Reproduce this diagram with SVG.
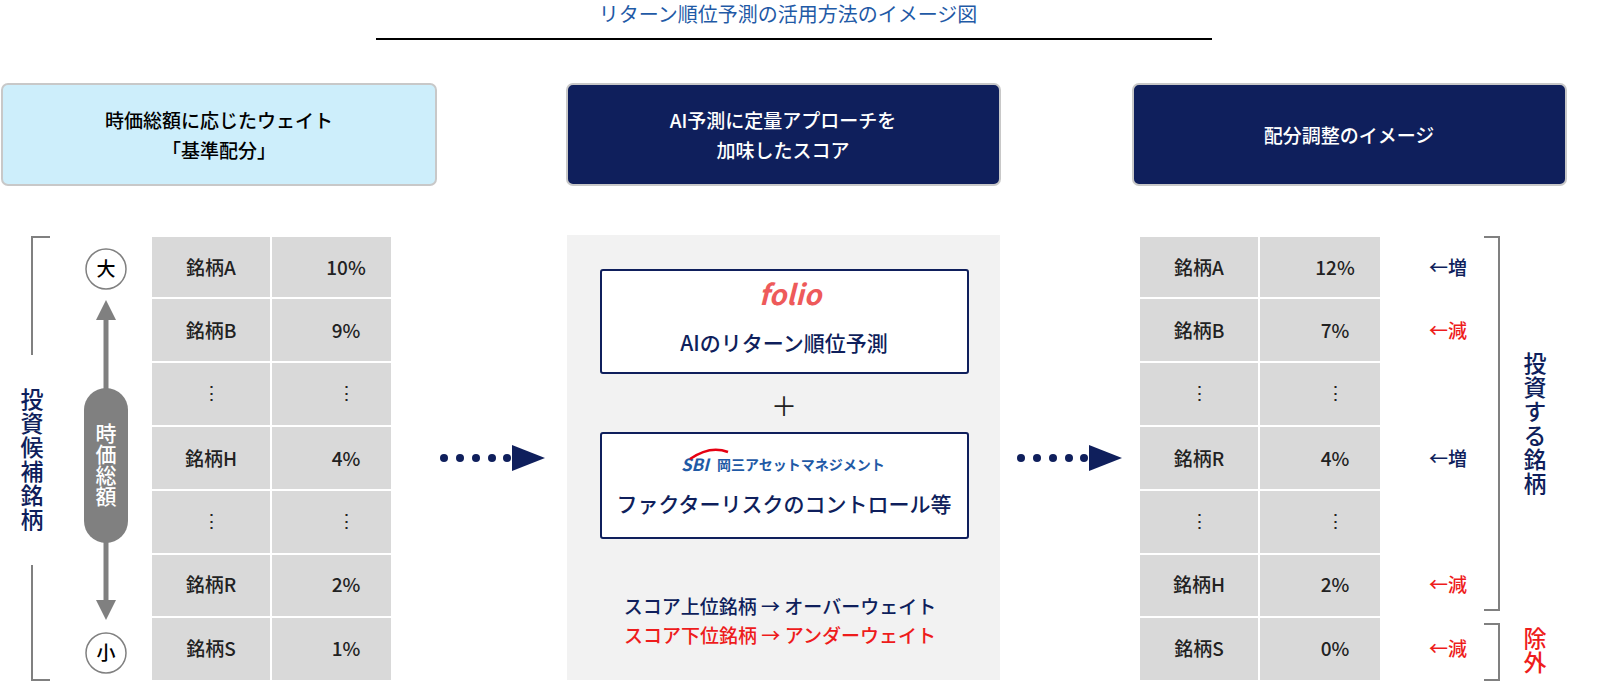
<svg xmlns="http://www.w3.org/2000/svg" width="1600" height="696" viewBox="0 0 1600 696">
<style>
text{font-family:"Noto Sans CJK JP","Noto Sans",sans-serif}
.cell{fill:#d9d9d9}
.ct{font-size:19px;fill:#222;text-anchor:middle;font-weight:500}
.nv{fill:#0f1f5c}
.rd{fill:#ee1c1c}
.hd{font-size:19px;text-anchor:middle;font-weight:500}
.vt{writing-mode:vertical-rl;text-anchor:middle;font-size:23px;font-weight:500;letter-spacing:1px}
</style>
<defs>
<marker id="ga" markerWidth="4" markerHeight="4" refX="2" refY="2" orient="auto"><path d="M0,0L4,2L0,4z" fill="#808080"/></marker>
</defs>
<rect width="1600" height="696" fill="#fff"/>
<text x="788" y="22" font-size="20" fill="#1f5aa6" text-anchor="middle">リターン順位予測の活用方法のイメージ図</text>
<line x1="376" y1="39" x2="1212" y2="39" stroke="#000" stroke-width="2"/>

<g id="h1"><rect x="2" y="84" width="434" height="101" rx="6" fill="#cdeefb" stroke="#c8c8c8" stroke-width="2"/>
<text class="hd" x="219" y="128" fill="#000">時価総額に応じたウェイト</text><text class="hd" x="219" y="158" fill="#000">「基準配分」</text></g>
<g id="h2"><rect x="567" y="84" width="433" height="101" rx="6" fill="#0f1f5c" stroke="#c8c8c8" stroke-width="2"/>
<text class="hd" x="783" y="128" fill="#fff">AI予測に定量アプローチを</text><text class="hd" x="783" y="158" fill="#fff">加味したスコア</text></g>
<g id="h3"><rect x="1133" y="84" width="433" height="101" rx="6" fill="#0f1f5c" stroke="#c8c8c8" stroke-width="2"/>
<text class="hd" x="1349" y="143" fill="#fff">配分調整のイメージ</text></g>

<g id="left">
<path d="M50,237H32V355M32,565V680H50" fill="none" stroke="#808080" stroke-width="2"/>
<text class="vt nv" x="32" y="460">投資候補銘柄</text>
<circle cx="106" cy="269" r="20" fill="#fff" stroke="#808080" stroke-width="1.5"/><text x="106" y="276" font-size="19" text-anchor="middle" font-weight="500">大</text>
<circle cx="106" cy="653" r="20" fill="#fff" stroke="#808080" stroke-width="1.5"/><text x="106" y="660" font-size="19" text-anchor="middle" font-weight="500">小</text>
<line x1="106" y1="400" x2="106" y2="310" stroke="#808080" stroke-width="5" marker-end="url(#ga)"/>
<line x1="106" y1="540" x2="106" y2="610" stroke="#808080" stroke-width="5" marker-end="url(#ga)"/>
<rect x="84" y="388" width="44" height="155" rx="22" fill="#808080"/>
<text class="vt" x="106" y="465" fill="#fff" style="font-size:21px;letter-spacing:0">時価総額</text>
</g>

<g id="ltable">
<g class="cell">
<rect x="152" y="237" width="118" height="60"/><rect x="272" y="237" width="119" height="60"/>
<rect x="152" y="299" width="118" height="62"/><rect x="272" y="299" width="119" height="62"/>
<rect x="152" y="363" width="118" height="62"/><rect x="272" y="363" width="119" height="62"/>
<rect x="152" y="427" width="118" height="62"/><rect x="272" y="427" width="119" height="62"/>
<rect x="152" y="491" width="118" height="62"/><rect x="272" y="491" width="119" height="62"/>
<rect x="152" y="555" width="118" height="61"/><rect x="272" y="555" width="119" height="61"/>
<rect x="152" y="618" width="118" height="62"/><rect x="272" y="618" width="119" height="62"/>
</g>
<g class="ct">
<text x="211" y="275">銘柄A</text><text x="346" y="275">10%</text>
<text x="211" y="338">銘柄B</text><text x="346" y="338">9%</text>
<text x="211" y="400">⋮</text><text x="346" y="400">⋮</text>
<text x="211" y="466">銘柄H</text><text x="346" y="466">4%</text>
<text x="211" y="528">⋮</text><text x="346" y="528">⋮</text>
<text x="211" y="592">銘柄R</text><text x="346" y="592">2%</text>
<text x="211" y="656">銘柄S</text><text x="346" y="656">1%</text>
</g></g>

<g id="connectors" fill="#0f1f5c">
<circle cx="444" cy="458" r="4"/><circle cx="460" cy="458" r="4"/><circle cx="476" cy="458" r="4"/><circle cx="492" cy="458" r="4"/><circle cx="507" cy="458" r="4"/>
<path d="M512,445L545,458L512,471z"/>
<circle cx="1021" cy="458" r="4"/><circle cx="1037" cy="458" r="4"/><circle cx="1053" cy="458" r="4"/><circle cx="1069" cy="458" r="4"/><circle cx="1084" cy="458" r="4"/>
<path d="M1089,445L1122,458L1089,471z"/>
</g>

<g id="mid">
<rect x="567" y="235" width="433" height="445" fill="#f2f2f2"/>
<rect x="601" y="270" width="367" height="103" rx="2" fill="#fff" stroke="#0f1f5c" stroke-width="2"/>
<text x="790" y="305" font-size="28" font-style="italic" font-weight="bold" fill="#ee5a5a" text-anchor="middle" font-family="Liberation Serif,serif">folio</text>
<text x="784" y="351" font-size="21" class="nv" text-anchor="middle" font-weight="500">AIのリターン順位予測</text>
<text x="784" y="416" font-size="26" fill="#222" text-anchor="middle">＋</text>
<rect x="601" y="433" width="367" height="105" rx="2" fill="#fff" stroke="#0f1f5c" stroke-width="2"/>
<text x="681" y="471" font-size="17" font-style="italic" font-weight="bold" fill="#1f5aa6" font-family="Liberation Sans,sans-serif">SBI</text>
<path d="M690,459Q710,445 728,452" fill="none" stroke="#e60012" stroke-width="2.5"/>
<text x="717" y="470" font-size="14" font-weight="bold" fill="#1f5aa6">岡三アセットマネジメント</text>
<text x="784" y="512" font-size="21" class="nv" text-anchor="middle" font-weight="500">ファクターリスクのコントロール等</text>
<text x="780" y="614" font-size="19" class="nv" text-anchor="middle" font-weight="500">スコア上位銘柄 → オーバーウェイト</text>
<text x="780" y="643" font-size="19" class="rd" text-anchor="middle" font-weight="500">スコア下位銘柄 → アンダーウェイト</text>
</g>

<g id="rtable">
<g class="cell">
<rect x="1140" y="237" width="118" height="60"/><rect x="1260" y="237" width="120" height="60"/>
<rect x="1140" y="299" width="118" height="62"/><rect x="1260" y="299" width="120" height="62"/>
<rect x="1140" y="363" width="118" height="62"/><rect x="1260" y="363" width="120" height="62"/>
<rect x="1140" y="427" width="118" height="62"/><rect x="1260" y="427" width="120" height="62"/>
<rect x="1140" y="491" width="118" height="62"/><rect x="1260" y="491" width="120" height="62"/>
<rect x="1140" y="555" width="118" height="61"/><rect x="1260" y="555" width="120" height="61"/>
<rect x="1140" y="618" width="118" height="62"/><rect x="1260" y="618" width="120" height="62"/>
</g>
<g class="ct">
<text x="1199" y="275">銘柄A</text><text x="1335" y="275">12%</text>
<text x="1199" y="338">銘柄B</text><text x="1335" y="338">7%</text>
<text x="1199" y="400">⋮</text><text x="1335" y="400">⋮</text>
<text x="1199" y="466">銘柄R</text><text x="1335" y="466">4%</text>
<text x="1199" y="528">⋮</text><text x="1335" y="528">⋮</text>
<text x="1199" y="592">銘柄H</text><text x="1335" y="592">2%</text>
<text x="1199" y="656">銘柄S</text><text x="1335" y="656">0%</text>
</g>
<g font-size="19" text-anchor="middle" font-weight="500">
<text class="nv" x="1448" y="275">←増</text><text class="rd" x="1448" y="338">←減</text>
<text class="nv" x="1448" y="466">←増</text><text class="rd" x="1448" y="592">←減</text>
<text class="rd" x="1448" y="656">←減</text>
</g>
<path d="M1484,237H1499V610H1484M1484,624H1499V680H1484" fill="none" stroke="#808080" stroke-width="2"/>
<text class="vt nv" x="1535" y="424">投資する銘柄</text>
<text class="vt rd" x="1535" y="651">除外</text>
</g>
</svg>
